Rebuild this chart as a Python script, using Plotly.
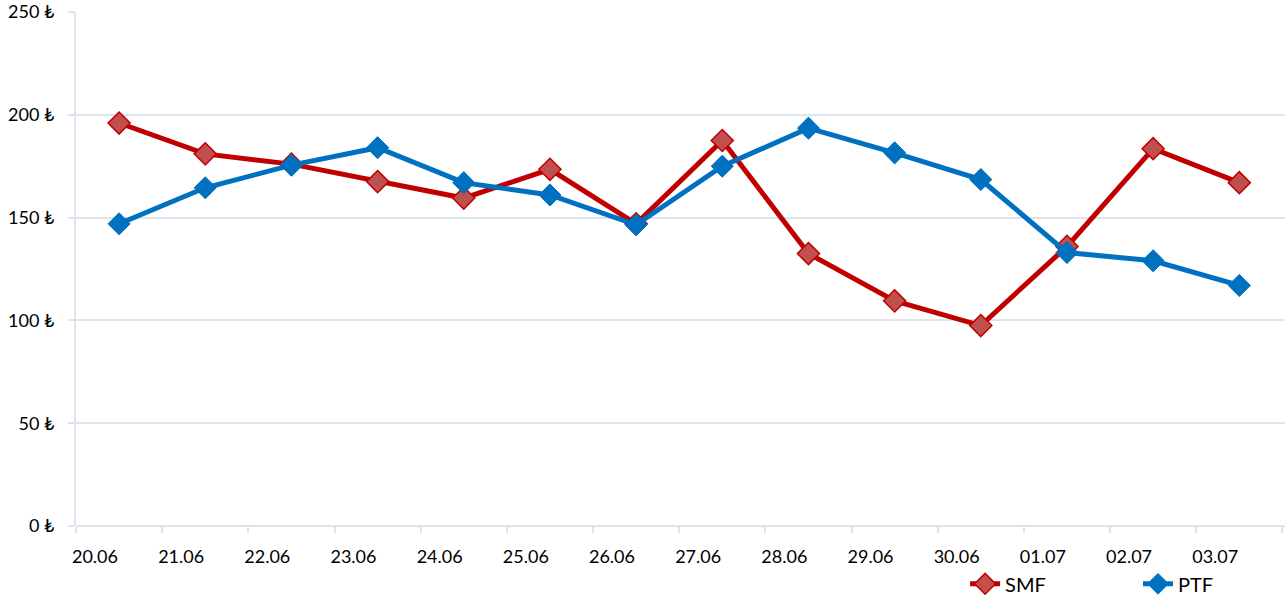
import plotly.graph_objects as go

dates = ["20.06", "21.06", "22.06", "23.06", "24.06", "25.06", "26.06",
         "27.06", "28.06", "29.06", "30.06", "01.07", "02.07", "03.07"]
smf = [196, 181, 176, 167.5, 159.5, 173.5, 147, 187.5, 132.5, 109.5, 97.5, 136, 183.5, 167]
ptf = [147, 164.5, 175.5, 184, 167, 161, 146.5, 175, 193.5, 181.5, 168.5, 133, 129, 117]
y_ticks = [0, 50, 100, 150, 200, 250]

pos = [i + 0.5 for i in range(len(dates))]
label_pos = [i + 0.22 for i in range(len(dates))]

grid = "#DCE4F0"
font = "Lato, 'Open Sans', sans-serif"

fig = go.Figure()
fig.add_trace(go.Scatter(
    x=pos, y=smf, name="SMF", mode="lines+markers", legend="legend",
    line=dict(color="#C00000", width=5),
    marker=dict(symbol="diamond", size=17, color="#C0504D",
                line=dict(color="#C00000", width=1.5)),
))
fig.add_trace(go.Scatter(
    x=pos, y=ptf, name="PTF", mode="lines+markers", legend="legend2",
    line=dict(color="#0070C0", width=5),
    marker=dict(symbol="diamond", size=17, color="#0070C0",
                line=dict(color="#0070C0", width=1)),
))

leg_common = dict(orientation="h", xanchor="left", yanchor="middle",
                  yref="container", y=0.027,
                  font=dict(size=20), bgcolor="rgba(0,0,0,0)")

fig.update_layout(
    width=1288, height=600,
    margin=dict(l=76, r=3, t=12, b=74),
    plot_bgcolor="white", paper_bgcolor="white",
    font=dict(family=font, size=18, color="#000000"),
    showlegend=True,
    legend=dict(x=0.7354, **leg_common),
    legend2=dict(x=0.8784, **leg_common),
    xaxis=dict(
        range=[0, 14.03], showgrid=False, zeroline=False,
        showline=False, automargin=False,
        tickmode="array", tickvals=label_pos, ticktext=dates,
        ticks="", ticklen=0, ticklabelstandoff=18,
        minor=dict(tick0=0, dtick=1, ticks="outside", ticklen=6,
                   tickcolor=grid, tickwidth=2, showgrid=False),
        tickfont=dict(size=18),
    ),
    yaxis=dict(
        range=[0, 250], tickmode="array", tickvals=y_ticks,
        ticktext=[f"{v} ₺" for v in y_ticks], automargin=False,
        showgrid=True, gridcolor=grid, gridwidth=1.5,
        zeroline=True, zerolinecolor=grid, zerolinewidth=2,
        showline=True, linecolor=grid, linewidth=2,
        ticks="outside", ticklen=6, tickcolor=grid, tickwidth=2,
        ticklabelstandoff=10,
        tickfont=dict(size=18),
    ),
)

fig.write_html("out.html", config={"displayModeBar": False},
               post_script="document.body.style.margin='0';document.body.style.overflow='hidden';")
